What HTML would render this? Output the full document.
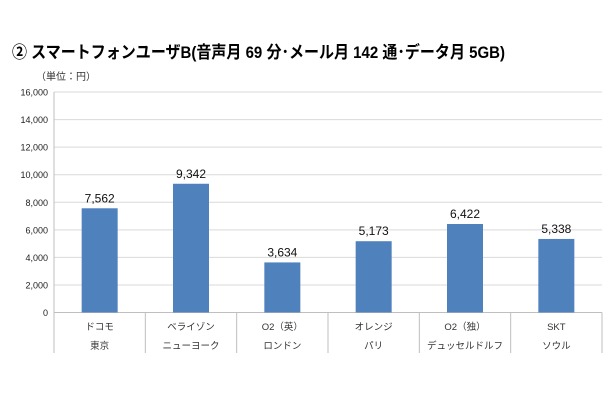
<!DOCTYPE html>
<html><head><meta charset="utf-8"><style>
body{margin:0;background:#fff;width:610px;height:400px;overflow:hidden;font-family:"Liberation Sans","Noto Sans CJK JP",sans-serif}
svg text{font-family:"Liberation Sans","Noto Sans CJK JP",sans-serif}
</style></head><body>
<svg width="610" height="400">
<text x="12" y="58" font-size="17" font-weight="bold" fill="#000" textLength="493" lengthAdjust="spacingAndGlyphs">②  スマートフォンユーザB(音声月 69 分･メール月 142 通･データ月 5GB)</text>
<text x="36" y="80" font-size="10" fill="#333">（単位：円）</text>
<g id="grid"></g><g id="bars"></g><g id="cats"></g>
</svg>
<script>
const categories1=["ドコモ","ベライゾン","O2（英）","オレンジ","O2（独）","SKT"];
const categories2=["東京","ニューヨーク","ロンドン","パリ","デュッセルドルフ","ソウル"];
const values=[7562,9342,3634,5173,6422,5338];
const ticks=[0,2000,4000,6000,8000,10000,12000,14000,16000];
const NS="http://www.w3.org/2000/svg";
const x0=54,x1=602,y0=312.5,y1=92,ymax=16000;
const y=v=>y0-(v/ymax)*(y0-y1);
const bw=(x1-x0)/categories1.length;
const xc=i=>x0+bw*(i+0.5);
function mk(t,a,p){const e=document.createElementNS(NS,t);for(const k in a)e.setAttribute(k,a[k]);p.appendChild(e);return e;}
const g=document.getElementById('grid');
ticks.forEach(t=>{
 const l=mk('line',{x1:x0,x2:x1,y1:y(t),y2:y(t),stroke:'#d9d9d9','stroke-width':1},g);
 
 
 const tx=mk('text',{x:48,y:y(t)+3.5,'font-size':9,'text-anchor':'end',fill:'#222'},g);
 tx.textContent=t.toLocaleString('en-US');
 
 
});
const ax=mk('line',{x1:x0,x2:x0,y1:y1,y2:y0,stroke:'#bfbfbf'},g);


const xa=mk('line',{x1:x0,x2:x1,y1:y0,y2:y0,stroke:'#bfbfbf'},g);


const b=document.getElementById('bars'),c=document.getElementById('cats');
values.forEach((v,i)=>{
 const r=mk('rect',{x:xc(i)-18,width:36,y:y(v),height:y0-y(v),fill:'#4f81bd'},b);
 
 
 const t=mk('text',{x:xc(i),y:y(v)-6,'font-size':12,'text-anchor':'middle',fill:'#111'},b);
 t.textContent=v.toLocaleString('en-US');
 
 
 const t1=mk('text',{x:xc(i),y:330,'font-size':9.5,'text-anchor':'middle',fill:'#333'},c);
 t1.textContent=categories1[i];
 
 
 const t2=mk('text',{x:xc(i),y:349,'font-size':9.5,'text-anchor':'middle',fill:'#333'},c);
 t2.textContent=categories2[i];
 
 
});
for(let i=0;i<=categories1.length;i++){
 const l=mk('line',{x1:x0+bw*i,x2:x0+bw*i,y1:y0,y2:353,stroke:'#bfbfbf'},c);
 
 
}
</script>
</body></html>
